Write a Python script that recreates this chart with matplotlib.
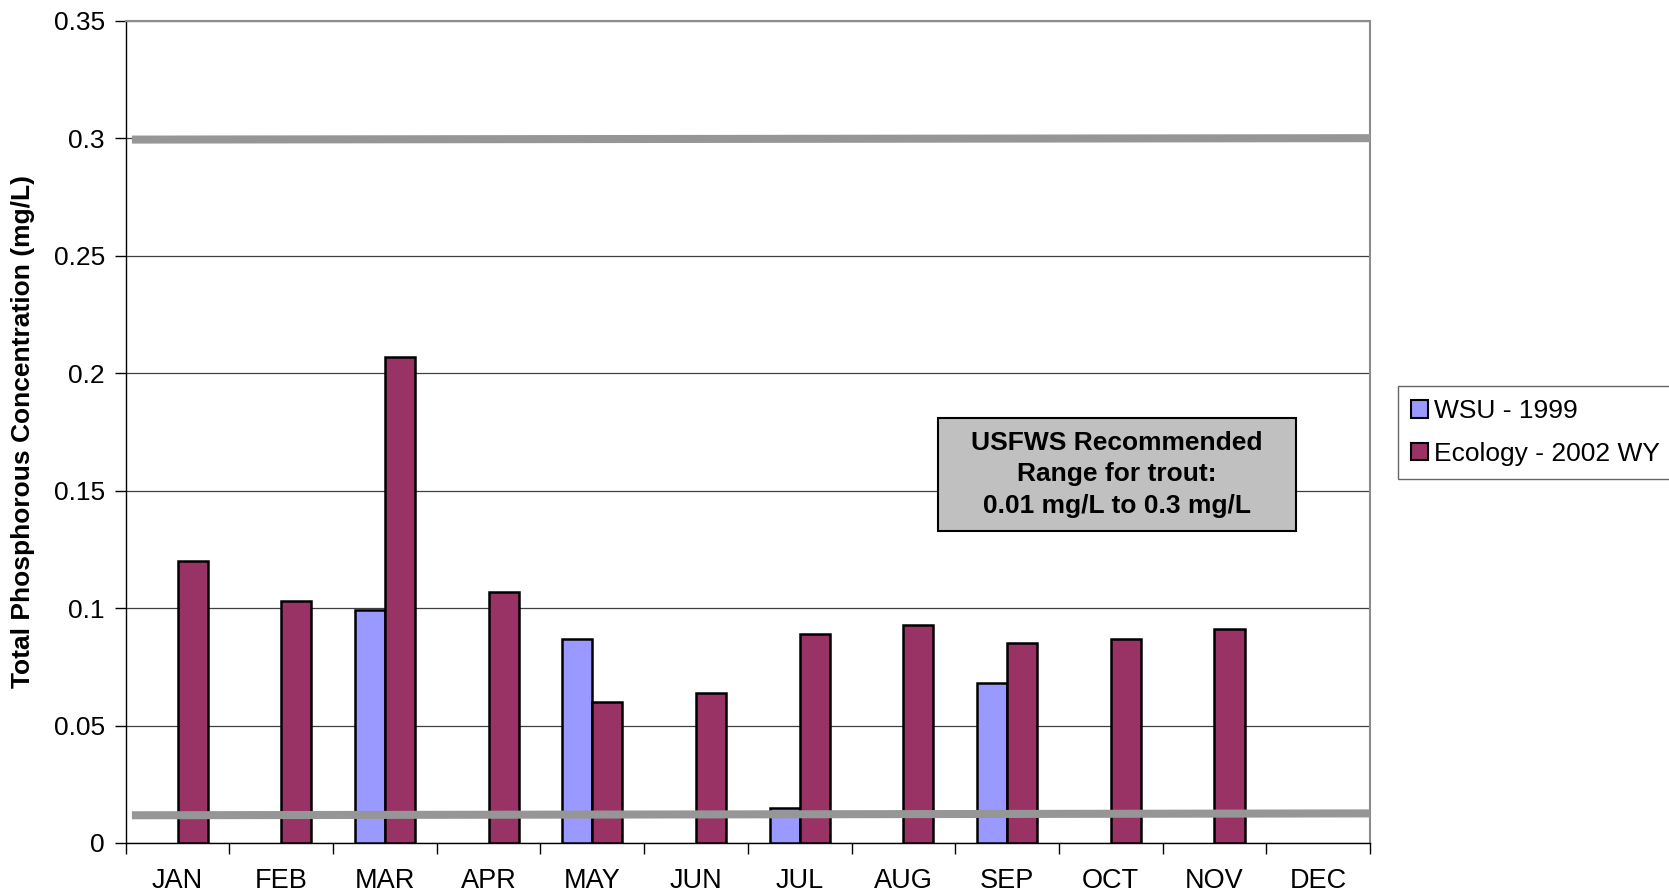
import matplotlib
matplotlib.use("Agg")
import matplotlib.pyplot as plt
from matplotlib.patches import Rectangle, Patch
import numpy as np

plt.rcParams['font.family'] = ['Liberation Sans', 'DejaVu Sans']

months = ["JAN", "FEB", "MAR", "APR", "MAY", "JUN", "JUL", "AUG", "SEP", "OCT", "NOV", "DEC"]
wsu_1999 = [np.nan, np.nan, 0.099, np.nan, 0.087, np.nan, 0.015, np.nan, 0.068, np.nan, np.nan, np.nan]
ecology_2002 = [0.120, 0.103, 0.207, 0.107, 0.060, 0.064, 0.089, 0.093, 0.085, 0.087, 0.091, np.nan]
upper_limit = [0.2994, 0.3000]
lower_limit = [0.0118, 0.0126]
yticks = [0, 0.05, 0.1, 0.15, 0.2, 0.25, 0.3, 0.35]
ytick_labels = ["0", "0.05", "0.1", "0.15", "0.2", "0.25", "0.3", "0.35"]
box_text = "USFWS Recommended\nRange for trout:\n0.01 mg/L to 0.3 mg/L"

W, H = 1669, 893
fig = plt.figure(figsize=(W / 100, H / 100), dpi=100)
ax_l, ax_r, ax_t, ax_b = 125.7, 1370, 20.7, 843
ax = fig.add_axes([ax_l / W, 1 - ax_b / H, (ax_r - ax_l) / W, (ax_b - ax_t) / H])

x = np.arange(len(months))
bw = 0.29
ax.bar(x - bw / 2, wsu_1999, width=bw, color="#9999FF", edgecolor="black", linewidth=1.8, zorder=3,
       label="WSU - 1999")
ax.bar(x + bw / 2, ecology_2002, width=bw, color="#993366", edgecolor="black", linewidth=1.8, zorder=3,
       label="Ecology - 2002 WY")

ax.plot([-0.44, 11.5], upper_limit, color="#969696", linewidth=5.8, solid_capstyle="butt", zorder=4)
ax.plot([-0.44, 11.5], lower_limit, color="#969696", linewidth=5.8, solid_capstyle="butt", zorder=4)

ax.set_xlim(-0.5, 11.5)
ax.set_ylim(0, 0.35)
ax.set_yticks(yticks)
ax.set_yticklabels(ytick_labels, fontsize=19)
ax.yaxis.grid(True, color="#404040", linewidth=0.9, zorder=0)
ax.set_axisbelow(True)

ax.set_xticks(np.arange(-0.5, 12.0, 1.0))
ax.set_xticklabels([])
ax.set_xticks(x, minor=True)
ax.set_xticklabels(months, minor=True, fontsize=19.5)
ax.tick_params(axis="x", which="major", length=8, width=1, direction="out", color="black")
ax.tick_params(axis="x", which="minor", length=0, pad=18)
ax.tick_params(axis="y", length=8, width=1, direction="out", pad=7)

for s in ["top", "right"]:
    ax.spines[s].set_color("#8c8c8c")
    ax.spines[s].set_linewidth(1.5)
for s in ["left", "bottom"]:
    ax.spines[s].set_color("black")
    ax.spines[s].set_linewidth(1.0)

ax.set_ylabel("Total Phosphorous Concentration (mg/L)", fontsize=19, fontweight="bold")
ax.yaxis.set_label_coords(-0.0725, 0.5)

# annotation box
bx0 = (938 - ax_l) / (ax_r - ax_l)
bw_ = (1296 - 938) / (ax_r - ax_l)
by0 = (ax_b - 530.7) / (ax_b - ax_t)
bh = (530.7 - 417.7) / (ax_b - ax_t)
ax.add_patch(Rectangle((bx0, by0), bw_, bh, transform=ax.transAxes, facecolor="#C0C0C0",
                       edgecolor="black", linewidth=1.5, zorder=5))
ax.text(bx0 + bw_ / 2, by0 + bh / 2, box_text, transform=ax.transAxes, ha="center", va="center",
        fontsize=19, fontweight="bold", linespacing=1.4, zorder=6)

handles = [Patch(facecolor="#9999FF", edgecolor="black", linewidth=1.5),
           Patch(facecolor="#993366", edgecolor="black", linewidth=1.5)]
leg = fig.legend(handles, ["WSU - 1999", "Ecology - 2002 WY"], loc="upper left",
                 bbox_to_anchor=(1398 / W, 1 - 386 / H), fontsize=19, frameon=True, fancybox=False,
                 handlelength=0.65, handleheight=0.65, handletextpad=0.2, labelspacing=0.7,
                 borderpad=0.5, borderaxespad=0)
leg.get_frame().set_edgecolor("#404040")
leg.get_frame().set_linewidth(1.0)

fig.savefig("out.png", dpi=100, facecolor="white")
